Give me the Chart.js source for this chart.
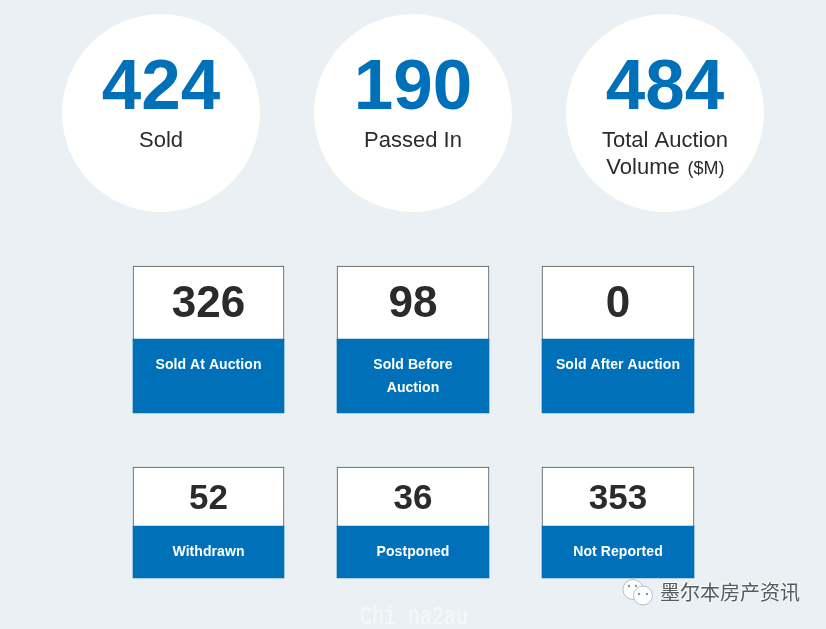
<!DOCTYPE html>
<html>
<head>
<meta charset="utf-8">
<title>Auction results</title>
<style>
	html, body { margin: 0; padding: 0; background: #eaf0f3; overflow: hidden; }
	canvas { display: block; }
</style>
<script src="https://cdn.jsdelivr.net/npm/chart.js@4"></script>
</head>
<body>
<canvas id="auction-chart" width="826" height="629"></canvas>
<script>
const chartCanvasEl = document.getElementById("auction-chart");

const BLUE = "#0071b9";
const DARK = "#2b2b2b";
const SANS = '"Liberation Sans", Arial, sans-serif';

// Headline figures in the circles
const circles = [
	{ x: 161, value: "424", label: ["Sold"] },
	{ x: 413, value: "190", label: ["Passed In"] },
	{ x: 665, value: "484", label: ["Total Auction", "Volume"], unit: "($M)" },
];

const rows = [
	{ top: 266, split: 339, bottom: 413, valueSize: 44, valueY: 305, labelY: 365 },
	{ top: 467, split: 526, bottom: 578, valueSize: 35, valueY: 499, labelY: 552 },
];

const columns = [
	{ x: 208.5, width: 151 },
	{ x: 413, width: 152 },
	{ x: 618, width: 152 },
];

const cards = [
	{ col: 0, row: 0, value: "326", label: ["Sold At Auction"] },
	{ col: 1, row: 0, value: "98", label: ["Sold Before", "Auction"] },
	{ col: 2, row: 0, value: "0", label: ["Sold After Auction"] },
	{ col: 0, row: 1, value: "52", label: ["Withdrawn"] },
	{ col: 1, row: 1, value: "36", label: ["Postponed"] },
	{ col: 2, row: 1, value: "353", label: ["Not Reported"] },
];

function drawText(ctx, text, x, y, font, color, spacing) {
	ctx.font = font;
	ctx.fillStyle = color;
	ctx.letterSpacing = spacing || "0px";
	ctx.fillText(text, x, y);
}

const textPlugin = {
	id: "cardText",
	afterDatasetsDraw(chart) {
		const { ctx, scales } = chart;
		const px = v => scales.x.getPixelForValue(v);
		const py = v => scales.y.getPixelForValue(v);

		ctx.save();
		ctx.textAlign = "center";
		ctx.textBaseline = "middle";

		for (const c of circles) {
			drawText(ctx, c.value, px(c.x), py(89), `bold 71px ${SANS}`, BLUE);
			if (c.unit) {
				drawText(ctx, c.label[0], px(c.x), py(141), `22px ${SANS}`, DARK);
				drawText(ctx, c.label[1], px(c.x - 22), py(168), `22px ${SANS}`, DARK);
				drawText(ctx, c.unit, px(c.x + 41), py(169), `18px ${SANS}`, DARK);
			} else {
				drawText(ctx, c.label[0], px(c.x), py(141), `22px ${SANS}`, DARK);
			}
		}

		for (const card of cards) {
			const row = rows[card.row];
			const x = columns[card.col].x;
			drawText(ctx, card.value, px(x), py(row.valueY), `bold ${row.valueSize}px ${SANS}`, DARK);
			card.label.forEach((line, i) => {
				drawText(ctx, line, px(x), py(row.labelY + i * 23), `bold 14px ${SANS}`, "#ffffff", "0.07px");
			});
		}

		// Watermarks
		ctx.textAlign = "left";
		ctx.save();
		ctx.shadowColor = "#ffffff";
		ctx.shadowBlur = 0;
		ctx.shadowOffsetX = -1;
		ctx.shadowOffsetY = -1;
		drawText(ctx, "墨尔本房产资讯", px(660), py(592.5), '20px "Noto Sans CJK SC"', "#555b60");
		ctx.restore();

		ctx.save();
		ctx.translate(px(360), py(617));
		ctx.scale(0.77, 1);
		drawText(ctx, "Chi na2au", 0, 0, '26px "Liberation Mono", monospace', "#f6f9fa");
		ctx.restore();

		ctx.restore();
	},
};

// One pair of bar datasets per column, the columns differ in width by a pixel.
// Earlier datasets draw on top, so the blue part goes first and hides the white part's lower border.
const labelDatasets = columns.map((col, i) => ({
	label: `Label ${i}`,
	data: rows.map(r => ({ x: col.x, y: [r.split, r.bottom] })),
	backgroundColor: BLUE,
	borderWidth: 0,
	borderSkipped: false,
	barThickness: col.width,
	grouped: false,
}));

const valueDatasets = columns.map((col, i) => ({
	label: `Value ${i}`,
	data: rows.map(r => ({ x: col.x, y: [r.top, r.split + 1] })),
	backgroundColor: "#ffffff",
	borderColor: "#4a5258",
	borderWidth: 1,
	borderSkipped: false,
	barThickness: col.width,
	grouped: false,
}));

const chartInstance = new Chart(chartCanvasEl.getContext("2d"), {
	type: "bar",
	data: {
		datasets: [
			...labelDatasets,
			...valueDatasets,
			{
				type: "scatter",
				label: "Circles",
				data: circles.map(c => ({ x: c.x, y: 113 })),
				pointRadius: 99,
				pointBackgroundColor: "#ffffff",
				pointBorderWidth: 0,
				showLine: false,
				clip: false,
			},
			{
				type: "scatter",
				label: "Chat icon eyes",
				data: [
					{ x: 629, y: 586 }, { x: 636, y: 586 },
					{ x: 639, y: 594 }, { x: 647, y: 594 },
				],
				pointRadius: 1.2,
				pointBackgroundColor: "#8d9499",
				pointBorderWidth: 0,
				showLine: false,
				clip: false,
			},
			{
				type: "scatter",
				label: "Chat icon front",
				data: [{ x: 643, y: 595.5 }],
				pointRadius: 9.5,
				pointBackgroundColor: "#ffffff",
				pointBorderColor: "#b8bdc1",
				pointBorderWidth: 1,
				showLine: false,
				clip: false,
			},
			{
				type: "scatter",
				label: "Chat icon back",
				data: [{ x: 633, y: 589.5 }],
				pointRadius: 10,
				pointBackgroundColor: "#ffffff",
				pointBorderColor: "#b8bdc1",
				pointBorderWidth: 1,
				showLine: false,
				clip: false,
			},
		],
	},
	options: {
		responsive: false,
		animation: false,
		events: [],
		layout: { padding: 0, autoPadding: false },
		plugins: {
			legend: { display: false },
			tooltip: { enabled: false },
		},
		scales: {
			x: { type: "linear", display: false, min: 0, max: 826, offset: false },
			y: { type: "linear", display: false, min: 0, max: 629, reverse: true, beginAtZero: false },
		},
	},
	plugins: [textPlugin],
});
</script>
</body>
</html>
